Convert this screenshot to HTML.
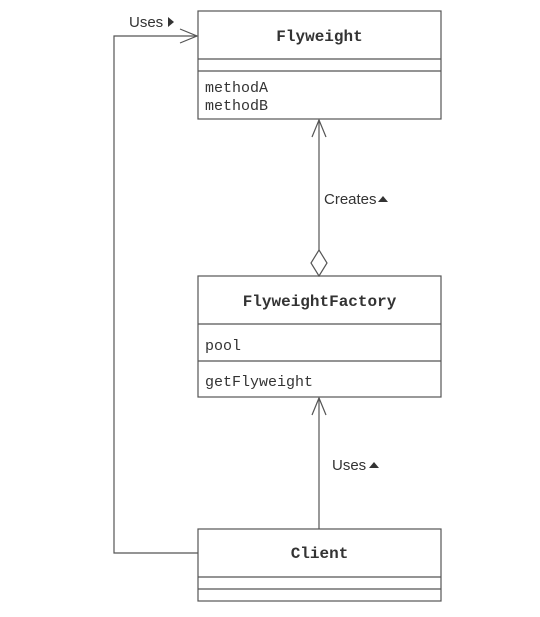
<!DOCTYPE html>
<html><head><style>
body{margin:0;background:#fff;}
svg text{fill:#333;}
</style></head><body>
<svg width="540" height="612" xmlns="http://www.w3.org/2000/svg">
<g fill="none" stroke="#555" stroke-width="1.2">
<rect x="198" y="11" width="243" height="108"/>
<line x1="198" y1="59" x2="441" y2="59"/>
<line x1="198" y1="71" x2="441" y2="71"/>
<rect x="198" y="276" width="243" height="121"/>
<line x1="198" y1="324" x2="441" y2="324"/>
<line x1="198" y1="361" x2="441" y2="361"/>
<rect x="198" y="529" width="243" height="72"/>
<line x1="198" y1="577" x2="441" y2="577"/>
<line x1="198" y1="589" x2="441" y2="589"/>
<polyline points="198,553 114,553 114,36 197,36"/>
<polyline points="180,29 197,36 180,43"/>
<line x1="319" y1="120" x2="319" y2="250"/>
<polyline points="312,137 319,120 326,137"/>
<polygon points="319,250 327,263 319,276 311,263" fill="#fff"/>
<line x1="319" y1="398" x2="319" y2="529"/>
<polyline points="312,415 319,398 326,415"/>
</g>
<g font-family="Liberation Sans, sans-serif" font-size="15">
<text x="129" y="27">Uses</text>
<polygon points="168,17 174,22 168,27" fill="#333"/>
<text x="324" y="204">Creates</text>
<polygon points="378,202 383,196 388,202" fill="#333"/>
<text x="332" y="470">Uses</text>
<polygon points="369,468 374,462 379,468" fill="#333"/>
</g>
<g font-family="Liberation Mono, monospace" font-size="15">
<text x="319.5" y="41" text-anchor="middle" font-weight="bold" font-size="16">Flyweight</text>
<text x="205" y="92">methodA</text>
<text x="205" y="110">methodB</text>
<text x="319.5" y="306" text-anchor="middle" font-weight="bold" font-size="16">FlyweightFactory</text>
<text x="205" y="350">pool</text>
<text x="205" y="386">getFlyweight</text>
<text x="319.5" y="558" text-anchor="middle" font-weight="bold" font-size="16">Client</text>
</g>
</svg>
</body></html>
